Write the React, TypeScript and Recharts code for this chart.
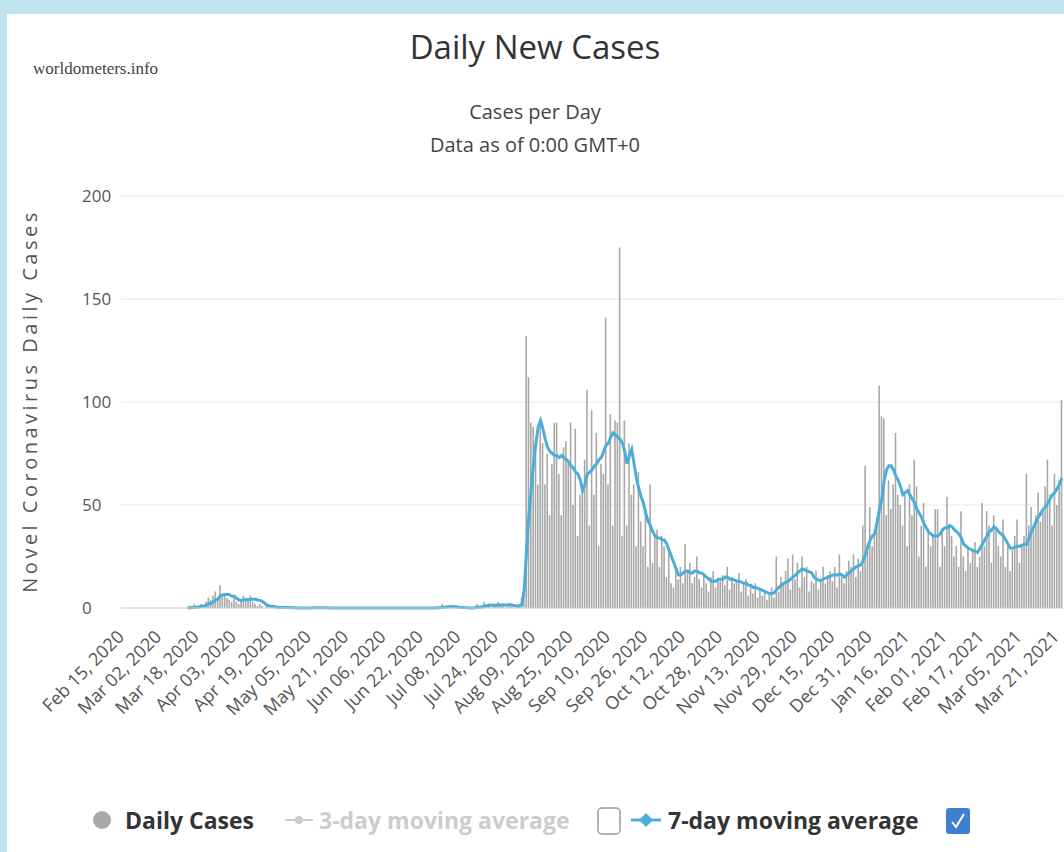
import React from 'react';
import { ComposedChart, Bar, Line, XAxis, YAxis, CartesianGrid } from 'recharts';

// Daily new cases, one value per day starting Feb 15, 2020
const dailyCases = [
  // Feb 15 - Mar 13
  0, 0, 0, 0, 0, 0, 0, 0, 0, 0, 0, 0, 0, 0, 0, 0, 0, 0, 0, 0, 0, 0, 0, 0, 0, 0, 0, 0,
  // Mar 14 - Apr 30
  0, 1, 0, 2, 0, 1, 2, 1, 3, 5, 4, 6, 8, 4, 11, 6, 7, 5, 4, 3, 5, 3, 2, 4, 6, 5, 4, 6, 3, 2,
  1, 2, 1, 0, 1, 0, 1, 0, 0, 1, 0, 0, 1, 0, 0, 0, 0, 0,
  // May 01 - Jun 28
  0, 0, 0, 0, 0, 0, 1, 0, 0, 0, 0, 0, 0, 0, 0, 0, 0, 0, 0, 0, 0, 0, 0, 0, 0, 0, 0, 0, 0, 0,
  0, 0, 0, 0, 0, 0, 0, 0, 0, 0, 0, 0, 0, 0, 0, 0, 0, 0, 0, 0, 0, 0, 0, 0, 0, 0, 0, 0, 0,
  // Jun 29 - Aug 04
  1, 0, 2, 0, 1, 0, 1, 0, 0, 1, 0, 0, 0, 0, 0, 0, 1, 2, 0, 1, 3, 1, 2, 0, 2, 1, 3, 1, 2, 0,
  1, 2, 1, 0, 1, 2, 5,
  // Aug 05 onwards, one row per week
  8, 132, 112, 90, 88, 75, 60, 92,
  80, 60, 75, 45, 70, 90, 90,
  65, 45, 78, 81, 72, 90, 50,
  87, 35, 55, 60, 72, 106, 40,
  96, 55, 85, 30, 70, 65, 141,
  60, 94, 40, 91, 90, 175, 35,
  91, 40, 80, 55, 60, 30, 66,
  42, 30, 48, 20, 60, 22, 35,
  38, 20, 35, 30, 15, 28, 12,
  10, 18, 14, 20, 12, 31, 18,
  22, 12, 15, 25, 14, 10, 17,
  12, 8, 15, 18, 10, 14, 13,
  16, 11, 20, 9, 15, 12, 13,
  17, 8, 12, 14, 6, 11, 7,
  12, 5, 9, 6, 8, 4, 7,
  10, 5, 25, 8, 15, 12, 18,
  24, 9, 26, 14, 22, 10, 25,
  15, 20, 8, 13, 12, 18, 9,
  14, 20, 12, 16, 18, 13, 20,
  10, 26, 15, 12, 18, 23, 20,
  26, 15, 24, 18, 40, 69, 30,
  49, 30, 38, 40, 108, 93, 92,
  45, 62, 48, 60, 85, 55, 50,
  40, 55, 30, 60, 45, 72, 59,
  25, 40, 51, 20, 38, 30, 35,
  48, 48, 20, 38, 30, 54, 40,
  35, 25, 30, 20, 47, 25, 18,
  30, 22, 28, 32, 20, 25, 51,
  30, 47, 40, 22, 45, 38, 30,
  25, 43, 20, 30, 18, 28, 35,
  43, 22, 30, 35, 65, 40, 49,
  38, 45, 56, 42, 48, 59, 72,
  55, 40, 65, 50, 62, 101,
];

// 7-day moving average as drawn (no line before Mar 14, 2020)
const sevenDayAvg: (number | null)[] = [
  null, null, null, null, null, null, null, null, null, null, null, null, null, null,
  null, null, null, null, null, null, null, null, null, null, null, null, null, null,
  0, 0.1, 0.1, 0.4, 0.4, 0.6, 0.9, 1, 1.3, 2, 2.3, 3, 4, 4.4, 5.9, 6.3, 6.6, 6.7, 6.4, 5.7,
  5.7, 4.7, 3.9, 3.7, 4, 4, 4.1, 4.3, 4.3, 4.3, 3.9, 3.7, 3.1, 2.3, 1.4, 1, 0.9, 0.7, 0.4, 0.4,
  0.3, 0.3, 0.4, 0.3, 0.3, 0.1, 0.1, 0,
  0, 0, 0, 0, 0, 0, 0.1, 0.1, 0.1, 0.1, 0.1, 0.1, 0.1, 0, 0, 0, 0, 0, 0, 0, 0, 0, 0, 0, 0, 0, 0, 0, 0, 0,
  0, 0, 0, 0, 0, 0, 0, 0, 0, 0, 0, 0, 0, 0, 0, 0, 0, 0, 0, 0, 0, 0, 0, 0, 0, 0, 0, 0, 0,
  0.1, 0.1, 0.4, 0.4, 0.6, 0.6, 0.7, 0.6, 0.6, 0.4, 0.3, 0.3, 0.1, 0.1, 0, 0, 0.1, 0.4, 0.4, 0.6,
  1, 1.1, 1.4, 1.3, 1.3, 1.3, 1.6, 1.4, 1.6, 1.3, 1.6, 1.7, 1.4, 1.1, 1, 1, 1.7,
  9, 28, 45, 58, 70, 80, 88, 91,
  87, 82, 78, 76, 75, 74, 74,
  73, 74, 73, 72, 71, 69, 68,
  66, 65, 62, 57, 60, 65, 66,
  67, 69, 70, 72, 73, 76, 79,
  80, 83, 85, 84, 83, 82, 80,
  76, 70, 74, 77, 70, 63, 58,
  54, 51, 46, 42, 40, 37, 35,
  34, 34, 33, 33, 31, 28, 25,
  22, 19, 16, 16, 17, 18, 18,
  17, 17, 18, 18, 17, 17, 16,
  15, 14, 13, 13, 13, 14, 14,
  14, 15, 15, 14, 14, 13.5, 13,
  13, 12.5, 12, 12, 11, 11, 10,
  10, 9.5, 9, 8.5, 8, 7.5, 7,
  7, 7.5, 9, 10, 11, 12, 12.5,
  13, 14, 15, 16, 17, 18, 19,
  18.5, 18, 17.5, 17, 15, 14, 13.5,
  13.5, 14, 14.5, 15, 15.5, 16, 16,
  16, 16.5, 16, 15, 16, 17, 18,
  19, 20, 20.5, 21, 23, 26, 30,
  33, 35, 36, 42, 48, 53, 62,
  67, 69, 69, 67, 64, 62, 59,
  55, 56, 57, 55, 53, 51, 48,
  46, 44, 41, 39, 37, 36, 35,
  35, 35, 36, 38, 39, 39, 40,
  39.5, 38, 37, 36, 34, 31, 30,
  29, 28.5, 28, 27.5, 27, 29, 31,
  33, 35, 37, 38, 39.5, 38.5, 37,
  36, 35, 33, 31, 29, 29, 29.5,
  30, 30, 30.5, 31, 31, 34, 37,
  39.5, 42, 44, 46, 48, 49, 51,
  53, 55, 56, 58, 60, 63,
];

const yTicks = [0, 50, 100, 150, 200];
const monthNames = ['Jan', 'Feb', 'Mar', 'Apr', 'May', 'Jun', 'Jul', 'Aug', 'Sep', 'Oct', 'Nov', 'Dec'];
const firstDay = Date.UTC(2020, 1, 15);

const dayLabels = dailyCases.map((_, i) => {
  const d = new Date(firstDay + i * 86400000);
  return `${monthNames[d.getUTCMonth()]} ${String(d.getUTCDate()).padStart(2, '0')}, ${d.getUTCFullYear()}`;
});

const data = dailyCases.map((v, i) => ({ date: dayLabels[i], daily: v, avg: sevenDayAvg[i] }));

const FONT = '"Open Sans", "DejaVu Sans", sans-serif';

const XTick = (props: any) => {
  const { x, y, payload } = props;
  return (
    <text
      transform={`translate(${x + 3},${y + 22}) rotate(-45)`}
      textAnchor="end"
      fill="#555"
      fontSize={18}
      fontFamily={FONT}
    >
      {payload.value}
    </text>
  );
};

const YTick = (props: any) => {
  const { x, y, payload } = props;
  return (
    <text x={x - 31} y={y} dy={6} textAnchor="start" fill="#555" fontSize={17} fontFamily={FONT}>
      {payload.value}
    </text>
  );
};

const Txt: React.FC<{ left: number; top: number; size: number; weight?: number; color: string; family?: string; children: React.ReactNode }> = ({ left, top, size, weight = 400, color, family = FONT, children }) => (
  <div
    style={{
      position: 'absolute',
      left,
      top,
      transform: 'translateY(-50%)',
      fontSize: size,
      fontWeight: weight,
      color,
      fontFamily: family,
      whiteSpace: 'nowrap',
      lineHeight: 1,
    }}
  >
    {children}
  </div>
);

const Centered: React.FC<{ top: number; size: number; color: string; children: React.ReactNode }> = ({ top, size, color, children }) => (
  <div
    style={{
      position: 'absolute',
      left: 0,
      width: 1070,
      top,
      transform: 'translateY(-50%)',
      textAlign: 'center',
      fontSize: size,
      color,
      fontFamily: FONT,
      lineHeight: 1,
      whiteSpace: 'nowrap',
    }}
  >
    {children}
  </div>
);

export default function App() {
  return (
    <div style={{ position: 'absolute', left: 0, top: 0, width: 1064, height: 852, overflow: 'hidden', background: '#bfe3ec' }}>
      <div style={{ position: 'absolute', left: 7, top: 14, width: 1070, height: 850, background: '#fff' }} />

      <Txt left={33} top={68} size={17} color="#444" family='"Liberation Serif", serif'>worldometers.info</Txt>
      <Centered top={46} size={33} color="#333">Daily New Cases</Centered>
      <Centered top={112} size={20} color="#444">Cases per Day</Centered>
      <Centered top={145} size={20} color="#444">Data as of 0:00 GMT+0</Centered>

      <div style={{ position: 'absolute', left: 0, top: 0 }}>
        <ComposedChart
          width={1064}
          height={852}
          data={data}
          margin={{ top: 196, right: 1, bottom: 144, left: 0 }}
        >
          <CartesianGrid vertical={false} stroke="#e6e6e6" />
          <XAxis
            dataKey="date"
            interval={15}
            tickLine={false}
            axisLine={{ stroke: '#d0d0d0' }}
            height={100}
            tick={<XTick />}
          />
          <YAxis
            width={121}
            domain={[0, 200]}
            ticks={yTicks}
            axisLine={false}
            tickLine={false}
            tick={<YTick />}
          />
          <Bar dataKey="daily" fill="#a8a8a8" barSize={1.6} isAnimationActive={false} />
          <Line
            type="linear"
            dataKey="avg"
            stroke="#4aaed9"
            strokeWidth={3}
            dot={false}
            isAnimationActive={false}
          />
        </ComposedChart>
      </div>

      <svg style={{ position: 'absolute', left: 0, top: 0 }} width={60} height={852}>
        <text
          transform="translate(37,401) rotate(-90)"
          textAnchor="middle"
          fontSize={20}
          letterSpacing={3.5}
          fill="#555"
          fontFamily={FONT}
        >
          Novel Coronavirus Daily Cases
        </text>
      </svg>

      {/* legend */}
      <svg style={{ position: 'absolute', left: 0, top: 800 }} width={1064} height={45}>
        <circle cx={102} cy={20} r={9} fill="#a8a8a8" />
        <line x1={285} y1={20} x2={313} y2={20} stroke="#cccccc" strokeWidth={2} />
        <circle cx={299} cy={20} r={4} fill="#cccccc" />
        <rect x={598} y={8} width={22} height={26} rx={4} fill="#fff" stroke="#999" strokeWidth={1.5} />
        <line x1={631} y1={20} x2={661} y2={20} stroke="#4aaed9" strokeWidth={3} />
        <path d="M646 13 L653 20 L646 27 L639 20 Z" fill="#4aaed9" />
        <rect x={946} y={8} width={24} height={26} rx={3} fill="#3f7fd0" />
        <path d="M952 22 L956 27 L964 14" fill="none" stroke="#fff" strokeWidth={2} />
      </svg>
      <Txt left={125} top={820} size={23} weight={700} color="#333">Daily Cases</Txt>
      <Txt left={319} top={820} size={23} weight={700} color="#cccccc">3-day moving average</Txt>
      <Txt left={668} top={820} size={23} weight={700} color="#333">7-day moving average</Txt>
    </div>
  );
}
